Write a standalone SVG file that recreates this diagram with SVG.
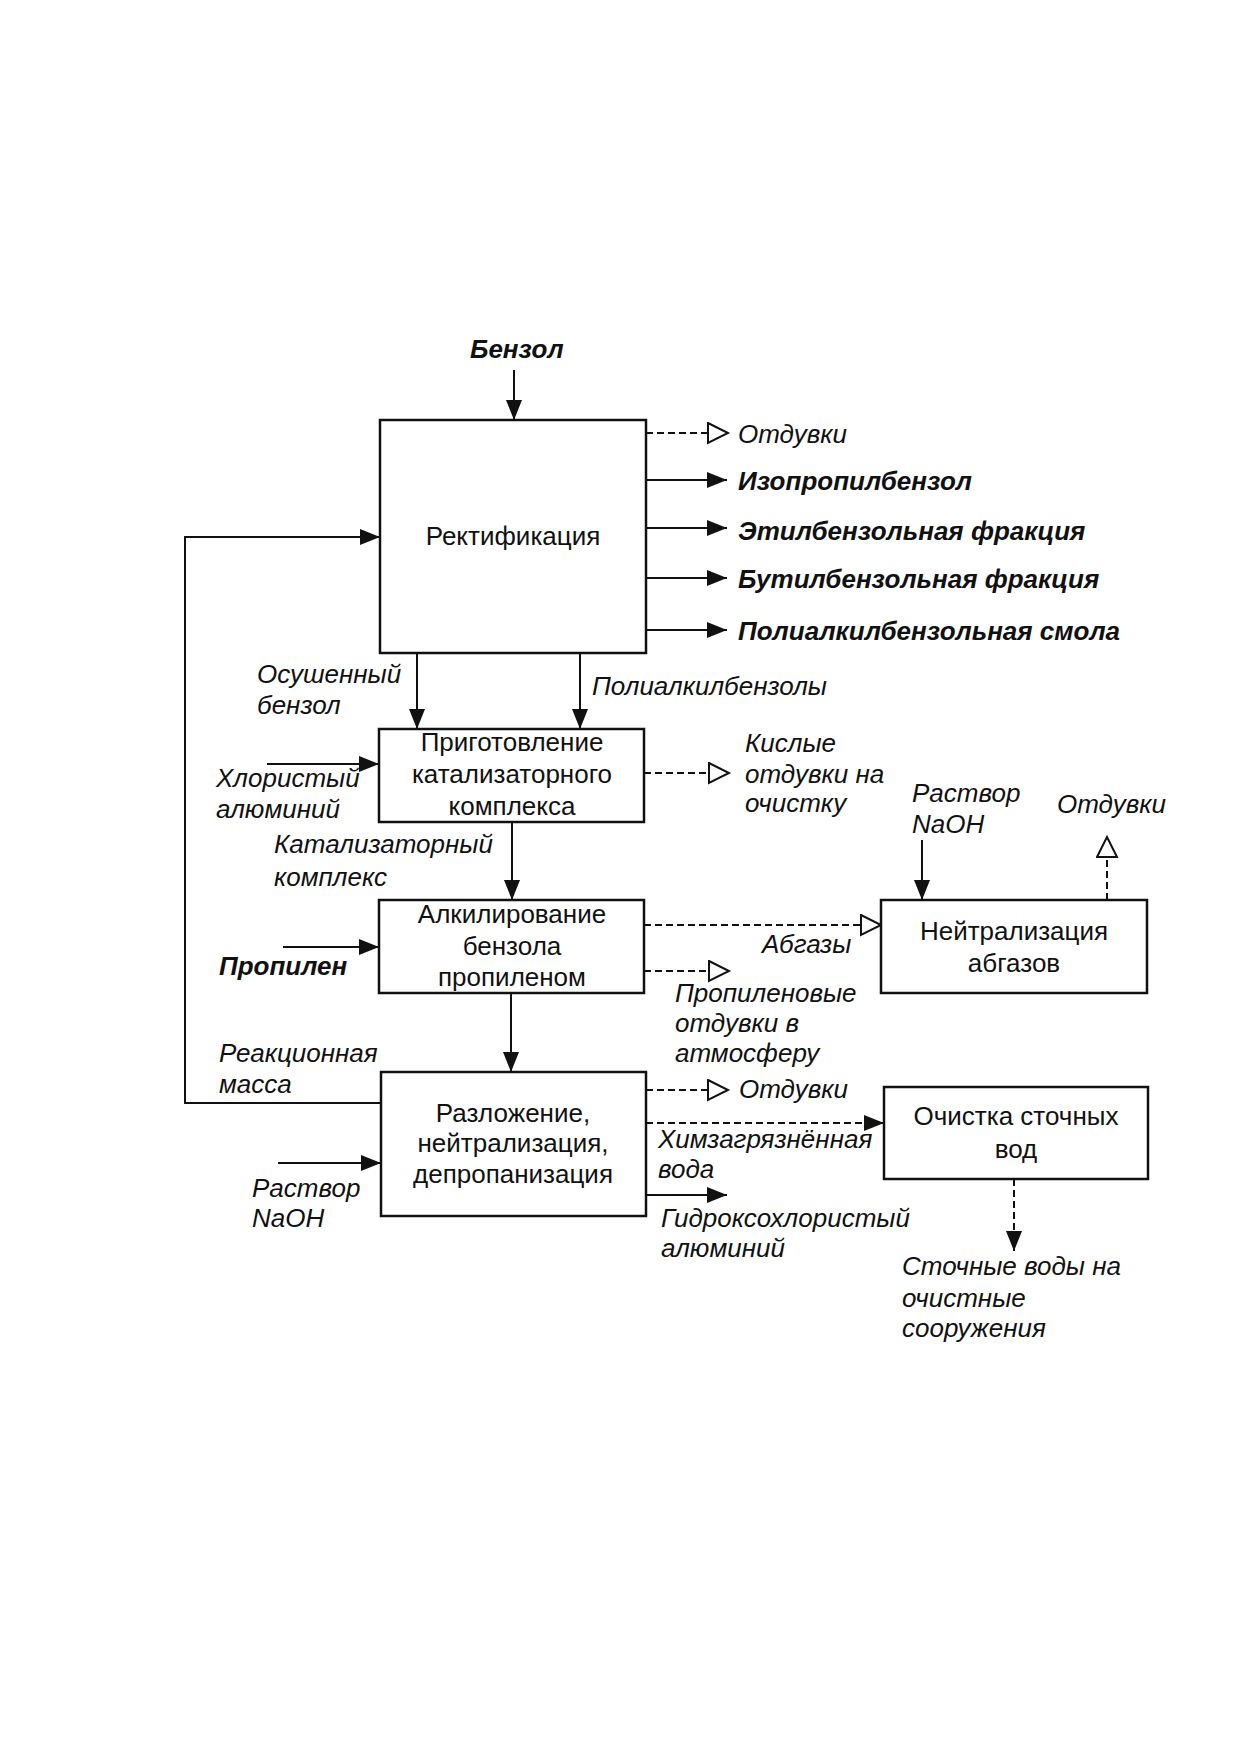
<svg xmlns="http://www.w3.org/2000/svg" width="1241" height="1755" viewBox="0 0 1241 1755">
<style>
text{font-family:"Liberation Sans",Arial,sans-serif;font-size:26px;fill:#111}
.box{fill:#fff;stroke:#111;stroke-width:2.5}
.bt{text-anchor:middle}
.lb{font-style:italic}
.bd{font-style:italic;font-weight:bold}
.ln{fill:none;stroke:#111;stroke-width:2}
.ds{fill:none;stroke:#111;stroke-width:2;stroke-dasharray:7 4}
</style>
<defs>
<marker id="af" markerUnits="userSpaceOnUse" markerWidth="22" markerHeight="18" refX="20" refY="8" orient="auto"><path d="M0,0 L20,8 L0,16 z" fill="#111"/></marker>
<marker id="ao" markerUnits="userSpaceOnUse" markerWidth="24" markerHeight="24" refX="21" refY="11" orient="auto"><path d="M1,1 L21,11 L1,21 z" fill="#fff" stroke="#111" stroke-width="2"/></marker>
</defs>
<rect width="1241" height="1755" fill="#fff"/>
<g id="connectors">
<path class="ln" d="M514,370 V420" marker-end="url(#af)"/>
<path class="ln" d="M380,1103 H185 V537 H380" marker-end="url(#af)"/>
<path class="ds" d="M646,433 H728" marker-end="url(#ao)"/>
<path class="ln" d="M646,480 H727" marker-end="url(#af)"/>
<path class="ln" d="M646,528 H727" marker-end="url(#af)"/>
<path class="ln" d="M646,578 H727" marker-end="url(#af)"/>
<path class="ln" d="M646,630 H727" marker-end="url(#af)"/>
<path class="ln" d="M417,653 V729" marker-end="url(#af)"/>
<path class="ln" d="M580,653 V729" marker-end="url(#af)"/>
<path class="ln" d="M267,764 H379" marker-end="url(#af)"/>
<path class="ds" d="M644,773 H729" marker-end="url(#ao)"/>
<path class="ln" d="M512,822 V900" marker-end="url(#af)"/>
<path class="ln" d="M283,947 H379" marker-end="url(#af)"/>
<path class="ds" d="M644,925 H881" marker-end="url(#ao)"/>
<path class="ds" d="M644,971 H729" marker-end="url(#ao)"/>
<path class="ln" d="M922,840 V900" marker-end="url(#af)"/>
<path class="ds" d="M1107,900 V837" marker-end="url(#ao)"/>
<path class="ln" d="M511,993 V1072" marker-end="url(#af)"/>
<path class="ln" d="M278,1163 H381" marker-end="url(#af)"/>
<path class="ds" d="M646,1090 H728" marker-end="url(#ao)"/>
<path class="ds" d="M646,1123 H884" marker-end="url(#af)"/>
<path class="ln" d="M646,1195 H727" marker-end="url(#af)"/>
<path class="ds" d="M1014,1179 V1251" marker-end="url(#af)"/>
</g>
<g id="n1"><rect class="box" x="380" y="420" width="266" height="233"/><text class="bt" x="513" y="545">Ректификация</text></g>
<g id="n2"><rect class="box" x="379" y="729" width="265" height="93"/><text class="bt" x="512" y="751">Приготовление</text><text class="bt" x="512" y="783">катализаторного</text><text class="bt" x="512" y="815">комплекса</text></g>
<g id="n3"><rect class="box" x="379" y="900" width="265" height="93"/><text class="bt" x="512" y="923">Алкилирование</text><text class="bt" x="512" y="955">бензола</text><text class="bt" x="512" y="986">пропиленом</text></g>
<g id="n4"><rect class="box" x="381" y="1072" width="265" height="144"/><text class="bt" x="513" y="1122">Разложение,</text><text class="bt" x="513" y="1152">нейтрализация,</text><text class="bt" x="513" y="1183">депропанизация</text></g>
<g id="n5"><rect class="box" x="881" y="900" width="266" height="93"/><text class="bt" x="1014" y="940">Нейтрализация</text><text class="bt" x="1014" y="972">абгазов</text></g>
<g id="n6"><rect class="box" x="884" y="1087" width="264" height="92"/><text class="bt" x="1016" y="1125">Очистка сточных</text><text class="bt" x="1016" y="1158">вод</text></g>
<g id="labels">
<text class="bd" x="470" y="358">Бензол</text>
<text class="lb" x="738" y="443">Отдувки</text>
<text class="bd" x="738" y="490">Изопропилбензол</text>
<text class="bd" x="738" y="540">Этилбензольная фракция</text>
<text class="bd" x="738" y="588">Бутилбензольная фракция</text>
<text class="bd" x="738" y="640">Полиалкилбензольная смола</text>
<text class="lb" x="257" y="683">Осушенный</text>
<text class="lb" x="257" y="714">бензол</text>
<text class="lb" x="592" y="695">Полиалкилбензолы</text>
<text class="lb" x="216" y="787">Хлористый</text>
<text class="lb" x="216" y="818">алюминий</text>
<text class="lb" x="745" y="752">Кислые</text>
<text class="lb" x="745" y="783">отдувки на</text>
<text class="lb" x="745" y="812">очистку</text>
<text class="lb" x="274" y="853">Катализаторный</text>
<text class="lb" x="274" y="886">комплекс</text>
<text class="lb" x="912" y="802">Раствор</text>
<text class="lb" x="912" y="833">NaOH</text>
<text class="lb" x="1057" y="813">Отдувки</text>
<text class="bd" x="219" y="975">Пропилен</text>
<text class="lb" x="762" y="953">Абгазы</text>
<text class="lb" x="675" y="1002">Пропиленовые</text>
<text class="lb" x="675" y="1032">отдувки в</text>
<text class="lb" x="675" y="1062">атмосферу</text>
<text class="lb" x="219" y="1062">Реакционная</text>
<text class="lb" x="219" y="1093">масса</text>
<text class="lb" x="739" y="1098">Отдувки</text>
<text class="lb" x="658" y="1148">Химзагрязнённая</text>
<text class="lb" x="658" y="1178">вода</text>
<text class="lb" x="252" y="1197">Раствор</text>
<text class="lb" x="252" y="1227">NaOH</text>
<text class="lb" x="661" y="1227">Гидроксохлористый</text>
<text class="lb" x="661" y="1257">алюминий</text>
<text class="lb" x="902" y="1275">Сточные воды на</text>
<text class="lb" x="902" y="1307">очистные</text>
<text class="lb" x="902" y="1337">сооружения</text>
</g>
</svg>
